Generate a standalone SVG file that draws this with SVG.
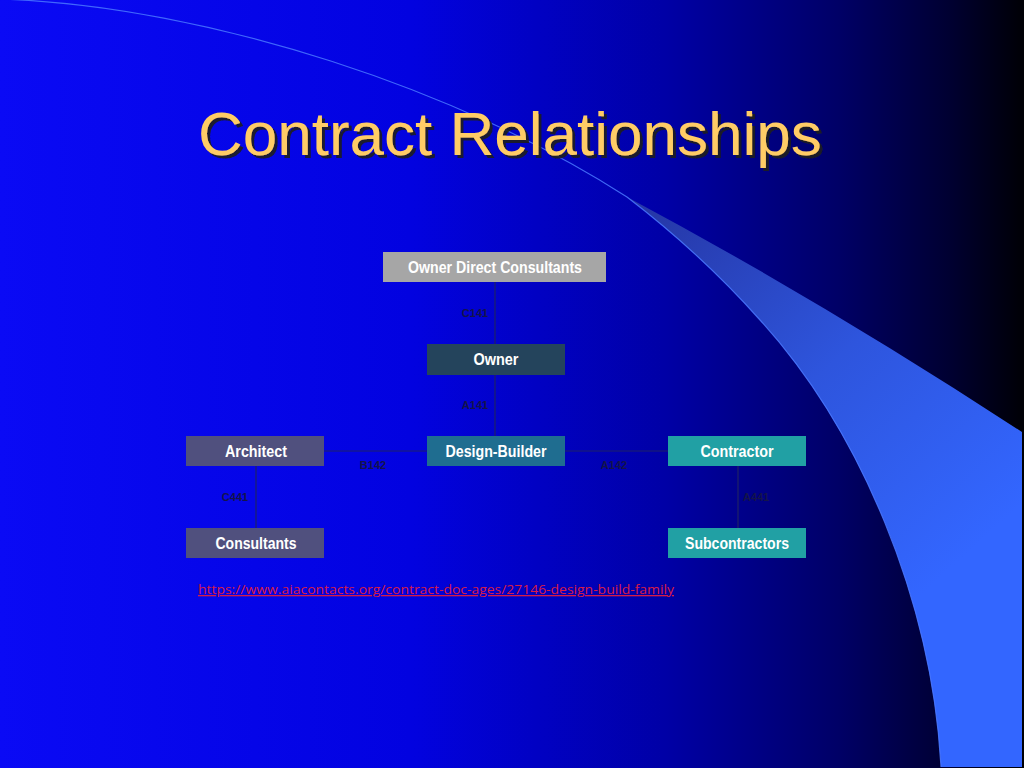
<svg xmlns="http://www.w3.org/2000/svg" width="1024" height="768" viewBox="0 0 1024 768">
  <defs>
    <linearGradient id="bg" x1="0" y1="0" x2="1" y2="0">
      <stop offset="0" stop-color="#0a0af5"/>
      <stop offset="0.4" stop-color="#0202e0"/>
      <stop offset="0.65" stop-color="#0000a6"/>
      <stop offset="0.82" stop-color="#000066"/>
      <stop offset="0.93" stop-color="#000030"/>
      <stop offset="1" stop-color="#000005"/>
    </linearGradient>
    <linearGradient id="swoosh" gradientUnits="userSpaceOnUse" x1="650" y1="215" x2="960" y2="560">
      <stop offset="0" stop-color="#2638a8"/>
      <stop offset="0.5" stop-color="#2e55dd"/>
      <stop offset="1" stop-color="#3366ff"/>
    </linearGradient>
    <filter id="shadow" x="-5%" y="-20%" width="110%" height="150%">
      <feDropShadow dx="3" dy="3" stdDeviation="0.6" flood-color="#1a1a1a" flood-opacity="0.9"/>
    </filter>
    <style>
      .title { font-family: "Liberation Sans", Arial, sans-serif; font-size: 62px; fill: #ffcc66; }
      .box { stroke: none; }
      .lbl { font-family: "Liberation Sans", Arial, sans-serif; font-size: 16px; font-weight: bold; fill: #ffffff; text-anchor: middle; }
      .edge { stroke: #1e2266; stroke-width: 1.2; fill: none; }
      .elbl { font-family: "Liberation Sans", Arial, sans-serif; font-size: 11px; font-weight: bold; fill: #14144a; text-anchor: middle; }
      .link { font-family: "Open Sans", "Liberation Sans", sans-serif; font-size: 13px; fill: #d81c46; text-decoration: underline; }
    </style>
  </defs>

  <g id="background">
    <rect x="0" y="0" width="1024" height="768" fill="url(#bg)"/>
    <path d="M627,197 Q820,300 1022,432 L1022,767 L941,767 C932,600 860,430 760,320 C720,275 670,230 627,197 Z" fill="url(#swoosh)"/>
    <path d="M0,-1 C210,6 465,92 627,197 C670,230 720,275 760,320 C860,430 932,600 941,767" fill="none" stroke="#4a78ff" stroke-width="1.2" opacity="0.85"/>
  </g>

  <text class="title" x="198" y="155" filter="url(#shadow)">Contract Relationships</text>

  <g id="connectors">
    <line class="edge" x1="495" y1="282" x2="495" y2="344"/>
    <text class="elbl" x="475" y="317">C141</text>
    <line class="edge" x1="495" y1="375" x2="495" y2="436"/>
    <text class="elbl" x="475" y="409">A141</text>
    <line class="edge" x1="324" y1="451" x2="427" y2="451"/>
    <text class="elbl" x="373" y="469">B142</text>
    <line class="edge" x1="565" y1="451" x2="668" y2="451"/>
    <text class="elbl" x="614" y="469">A142</text>
    <line class="edge" x1="256" y1="466" x2="256" y2="528"/>
    <text class="elbl" x="235" y="501">C441</text>
    <line class="edge" x1="738" y1="466" x2="738" y2="528"/>
    <text class="elbl" x="756" y="501">A441</text>
  </g>

  <g id="node-owner-direct-consultants">
    <rect class="box" x="383" y="252" width="223" height="30" fill="#a6a6a6"/>
    <text class="lbl" x="495" y="273" textLength="174" lengthAdjust="spacingAndGlyphs">Owner Direct Consultants</text>
  </g>
  <g id="node-owner">
    <rect class="box" x="427" y="344" width="138" height="31" fill="#24445c"/>
    <text class="lbl" x="496" y="365" textLength="45" lengthAdjust="spacingAndGlyphs">Owner</text>
  </g>
  <g id="node-architect">
    <rect class="box" x="186" y="436" width="138" height="30" fill="#50507e"/>
    <text class="lbl" x="256" y="457" textLength="62" lengthAdjust="spacingAndGlyphs">Architect</text>
  </g>
  <g id="node-design-builder">
    <rect class="box" x="427" y="436" width="138" height="30" fill="#1f6d90"/>
    <text class="lbl" x="496" y="457" textLength="101" lengthAdjust="spacingAndGlyphs">Design-Builder</text>
  </g>
  <g id="node-contractor">
    <rect class="box" x="668" y="436" width="138" height="30" fill="#21a0a4"/>
    <text class="lbl" x="737" y="457" textLength="73" lengthAdjust="spacingAndGlyphs">Contractor</text>
  </g>
  <g id="node-consultants">
    <rect class="box" x="186" y="528" width="138" height="30" fill="#50507e"/>
    <text class="lbl" x="256" y="549" textLength="81" lengthAdjust="spacingAndGlyphs">Consultants</text>
  </g>
  <g id="node-subcontractors">
    <rect class="box" x="668" y="528" width="138" height="30" fill="#21a0a4"/>
    <text class="lbl" x="737" y="549" textLength="104" lengthAdjust="spacingAndGlyphs">Subcontractors</text>
  </g>

  <text class="link" x="198" y="594" textLength="476" lengthAdjust="spacingAndGlyphs">https://www.aiacontacts.org/contract-doc-ages/27146-design-build-family</text>
</svg>
